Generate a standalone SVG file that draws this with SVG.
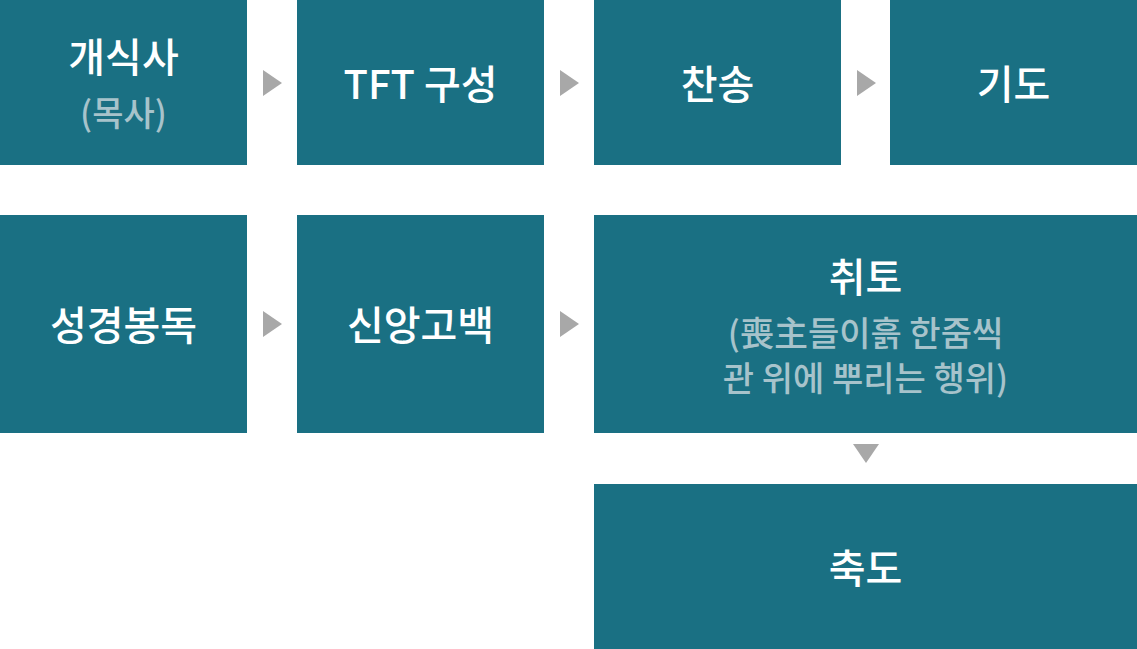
<svg xmlns="http://www.w3.org/2000/svg" width="1137" height="649" viewBox="0 0 1137 649">
<style>
.box{fill:#1a7083}
.t{font-family:"Noto Sans CJK KR","Noto Sans",sans-serif;font-size:40px;font-weight:500;fill:#ffffff;text-anchor:middle}
.s{font-family:"Noto Sans CJK KR","Noto Sans",sans-serif;font-size:34px;font-weight:500;fill:#a7c3cb;text-anchor:middle}
.arr{fill:#a8a8a8}
</style>
<rect width="1137" height="649" fill="#ffffff"/>
<g id="n1"><rect class="box" x="0" y="0" width="247" height="165"/><text class="t" x="123.5" y="72">개식사</text><text class="s" x="123.5" y="126">(목사)</text></g>
<g id="n2"><rect class="box" x="297" y="0" width="247" height="165"/><text class="t" x="420.5" y="99">TFT 구성</text></g>
<g id="n3"><rect class="box" x="594" y="0" width="247" height="165"/><text class="t" x="717.5" y="99">찬송</text></g>
<g id="n4"><rect class="box" x="890" y="0" width="247" height="165"/><text class="t" x="1013.5" y="99">기도</text></g>
<g id="n5"><rect class="box" x="0" y="215" width="247" height="218"/><text class="t" x="123.5" y="340">성경봉독</text></g>
<g id="n6"><rect class="box" x="297" y="215" width="247" height="218"/><text class="t" x="420.5" y="340">신앙고백</text></g>
<g id="n7"><rect class="box" x="594" y="215" width="543" height="218"/><text class="t" x="865.5" y="292">취토</text><text class="s" x="865.5" y="346">(喪主들이흙 한줌씩</text><text class="s" x="865.5" y="391">관 위에 뿌리는 행위)</text></g>
<g id="n8"><rect class="box" x="594" y="484" width="543" height="165"/><text class="t" x="865.5" y="583">축도</text></g>
<g id="connectors">
<polygon class="arr" points="263,70 282,83 263,96"/>
<polygon class="arr" points="560,70 579,83 560,96"/>
<polygon class="arr" points="857,70 876,83 857,96"/>
<polygon class="arr" points="263,311 282,324 263,337"/>
<polygon class="arr" points="560,311 579,324 560,337"/>
<polygon class="arr" points="853,444 879,444 866,463"/>
</g>
</svg>
